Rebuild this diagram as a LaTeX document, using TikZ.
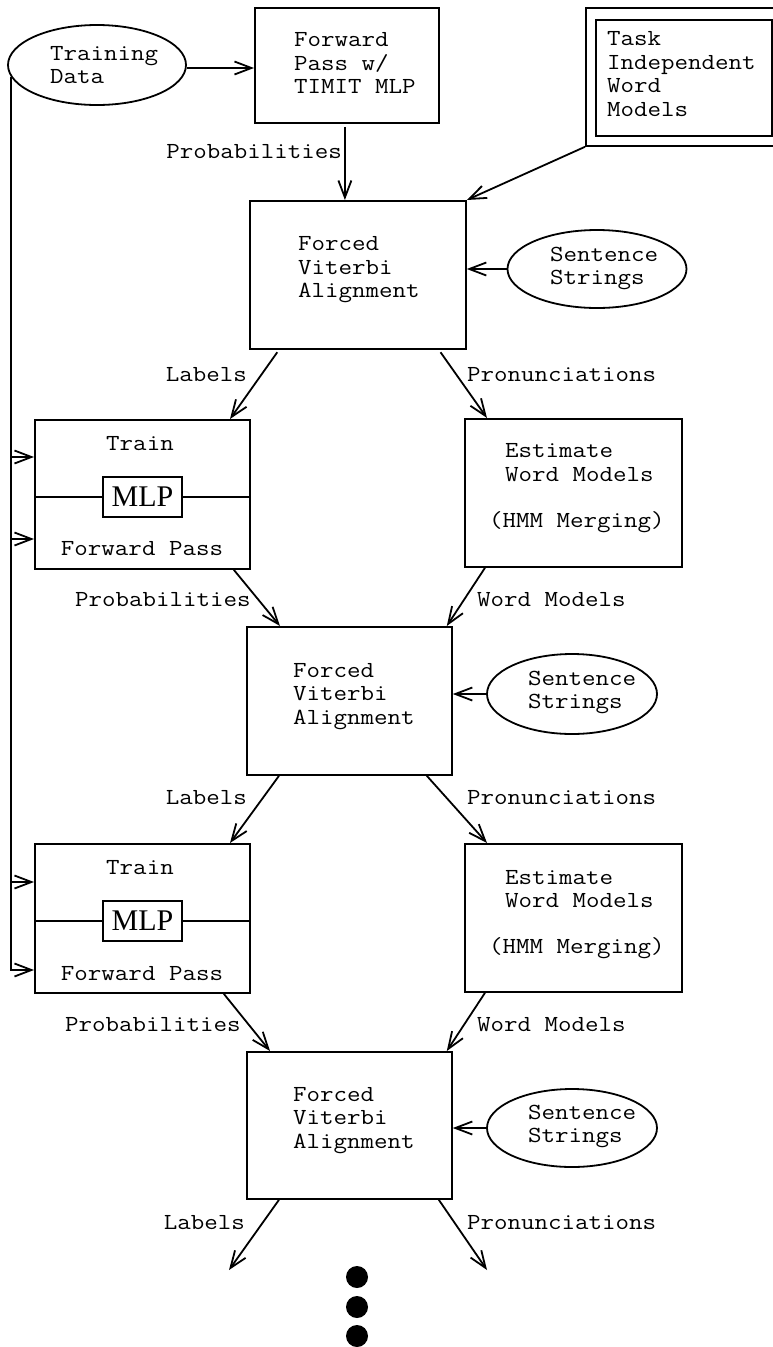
\documentclass[tikz,border=0pt]{standalone}
\usepackage{fontspec}
\newfontfamily\cour[FakeStretch=1.14]{Latin Modern Mono}
\newfontfamily\tms{Liberation Serif}
\usetikzlibrary{arrows.meta,shapes.geometric}
\tikzset{
 ln/.style={line width=1.8pt},
 arr/.style={ln,-{Straight Barb[length=17pt,width=13pt,line width=1.8pt]}},
 box/.style={draw,ln,rectangle,inner sep=0pt,anchor=north west},
 oval/.style={draw,ln,ellipse,inner sep=0pt},
 txt/.style={font=\cour\fontsize{23}{23.5}\selectfont,inner sep=0pt,align=left},
 mlp/.style={draw,ln,rectangle,inner sep=0pt,minimum width=79pt,minimum height=40pt,font=\tms\fontsize{30}{30}\selectfont},
 dot/.style={circle,fill=black,inner sep=0pt,minimum size=22pt}
}
\begin{document}
\begin{tikzpicture}[x=1pt,y=-1pt]
\useasboundingbox (0,0) rectangle (773,1347);
% ---------- top row
\node[oval,minimum width=178pt,minimum height=80pt] (td) at (97,65) {};
\node[txt,anchor=west] (tdT) at (50,65) {Training\\Data};
\node[box,minimum width=184pt,minimum height=115pt] (fwd) at (254,7) {};
\node[txt,anchor=west] (fwdT) at (294,63) {Forward\\Pass w/\\TIMIT MLP};
\node[box,minimum width=200pt,minimum height=138pt] (task) at (585,7) {};
\node[box,minimum width=176pt,minimum height=116pt] (taskin) at (595,19) {};
\node[txt,anchor=west] (taskT) at (607,74) {Task\\Independent\\Word\\Models};
% ---------- stage 1
\node[box,minimum width=216pt,minimum height=148pt] (f1) at (249,200) {};
\node[txt,anchor=west] (f1T) at (298,270) {Forced\\Viterbi\\Alignment};
\node[oval,minimum width=179pt,minimum height=78pt] (s1) at (597,269) {};
\node[txt,anchor=west] (s1T) at (550,268.5) {Sentence\\Strings};
\node[box,minimum width=215pt,minimum height=149pt] (t1) at (34,419) {};
\node[txt] (t1a) at (140,444) {Train};
\node[txt] (t1b) at (142,549) {Forward Pass};
\node[mlp] (m1) at (142.5,497) {MLP};
\node[box,minimum width=217pt,minimum height=148pt] (e1) at (464,418) {};
\node[txt,anchor=west] (e1T) at (489,488.5) {\hspace*{16pt}Estimate\\\hspace*{16pt}Word Models\\[23pt](HMM Merging)};
% ---------- stage 2
\node[box,minimum width=205pt,minimum height=148pt] (f2) at (246,626) {};
\node[txt,anchor=west] (f2T) at (293,696.5) {Forced\\Viterbi\\Alignment};
\node[oval,minimum width=170pt,minimum height=80pt] (s2) at (572,694) {};
\node[txt,anchor=west] (s2T) at (528,692.5) {Sentence\\Strings};
\node[box,minimum width=215pt,minimum height=149pt] (t2) at (34,843) {};
\node[txt] (t2a) at (140,868) {Train};
\node[txt] (t2b) at (142,974) {Forward Pass};
\node[mlp] (m2) at (142.5,921) {MLP};
\node[box,minimum width=217pt,minimum height=148pt] (e2) at (464,843) {};
\node[txt,anchor=west] (e2T) at (489,914.5) {\hspace*{16pt}Estimate\\\hspace*{16pt}Word Models\\[22pt](HMM Merging)};
% ---------- stage 3
\node[box,minimum width=205pt,minimum height=147pt] (f3) at (246,1051) {};
\node[txt,anchor=west] (f3T) at (293,1120.5) {Forced\\Viterbi\\Alignment};
\node[oval,minimum width=170pt,minimum height=78pt] (s3) at (572,1128) {};
\node[txt,anchor=west] (s3T) at (528,1126.5) {Sentence\\Strings};
\node[dot] (d1) at (357,1277) {};
\node[dot] (d2) at (357,1307) {};
\node[dot] (d3) at (357,1336) {};
% ---------- labels
\node[txt,anchor=east] (lp1) at (342,152) {Probabilities};
\node[txt,anchor=east] (ll1) at (247,375) {Labels};
\node[txt,anchor=west] (lr1) at (467,375) {Pronunciations};
\node[txt,anchor=west] (lp2) at (75,600) {Probabilities};
\node[txt,anchor=west] (lw2) at (477,600) {Word Models};
\node[txt,anchor=east] (ll2) at (247,798) {Labels};
\node[txt,anchor=west] (lr2) at (467,798) {Pronunciations};
\node[txt,anchor=west] (lp3) at (65,1025) {Probabilities};
\node[txt,anchor=west] (lw3) at (477,1025) {Word Models};
\node[txt,anchor=east] (ll3) at (245,1223) {Labels};
\node[txt,anchor=west] (lr3) at (467,1223) {Pronunciations};
% ---------- MLP divider lines
\draw[ln] (m1.west -| t1.west) -- (m1.west);
\draw[ln] (m1.east) -- (m1.east -| t1.east);
\draw[ln] (m2.west -| t2.west) -- (m2.west);
\draw[ln] (m2.east) -- (m2.east -| t2.east);
% ---------- connectors
\draw[arr] ([yshift=-3pt]td.east) -- ([yshift=-3pt]td.east -| fwd.west);
\draw[arr,shorten <=3pt] ([xshift=-2pt]fwd.south) -- ([xshift=-2pt]fwd.south |- f1.north);
\draw[arr] (task.south west) -- (f1.north east);
\draw[arr] (s1.west) -- (s1.west -| f1.east);
\draw[arr,shorten <=3pt] ([xshift=30pt]f1.south west) -- ([xshift=196pt]t1.north west);
\draw[arr,shorten <=3pt] ([xshift=-28pt]f1.south east) -- ([xshift=23pt]e1.north west);
\draw[arr] ([xshift=-17pt]t1.south east) -- ([xshift=34pt]f2.north west);
\draw[arr] ([xshift=21pt]e1.south west) -- ([xshift=-6pt]f2.north east);
\draw[arr] (s2.west) -- (s2.west -| f2.east);
\draw[arr] ([xshift=33pt]f2.south west) -- ([xshift=196pt]t2.north west);
\draw[arr] ([xshift=-26pt]f2.south east) -- ([xshift=23pt]e2.north west);
\draw[arr] ([xshift=-27pt]t2.south east) -- ([xshift=24pt]f3.north west);
\draw[arr] ([xshift=21pt]e2.south west) -- ([xshift=-6pt]f3.north east);
\draw[arr] (s3.west) -- (s3.west -| f3.east);
\coordinate (out1) at (229,1270);
\coordinate (out2) at (487,1270);
\draw[arr] ([xshift=33pt]f3.south west) -- (out1);
\draw[arr] ([xshift=-14pt]f3.south east) -- (out2);
% ---------- training data feed
\coordinate (in1) at ([yshift=-38pt]t1.north west);
\coordinate (in2) at ([yshift=-120pt]t1.north west);
\coordinate (in3) at ([yshift=-39pt]t2.north west);
\coordinate (in4) at ([yshift=-127pt]t2.north west);
\draw[arr] (td.188) |- (in4);
\draw[arr] (td.188 |- in1) -- (in1);
\draw[arr] (td.188 |- in2) -- (in2);
\draw[arr] (td.188 |- in3) -- (in3);
\end{tikzpicture}
\end{document}
